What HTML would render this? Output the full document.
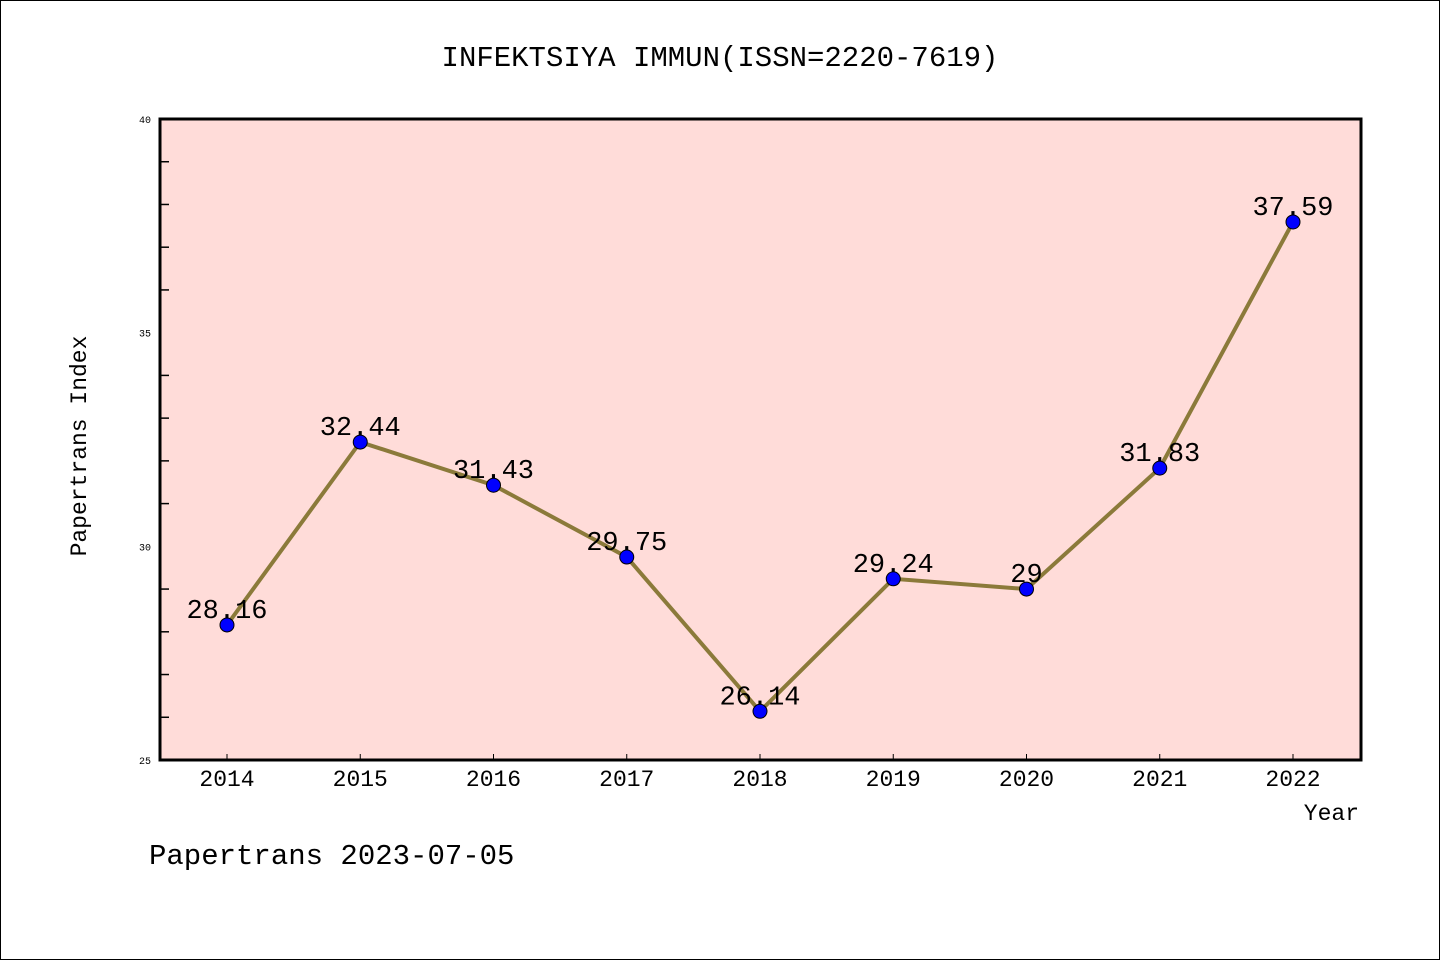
<!DOCTYPE html>
<html><head><meta charset="utf-8"><style>
body{margin:0;background:#fff}
svg text{font-family:"WenQuanYi Zen Hei Mono","WenQuanYi Zen Hei","Liberation Mono",monospace}
</style></head><body>
<svg width="1440" height="960" xmlns="http://www.w3.org/2000/svg">
<rect x="0.5" y="0.5" width="1439" height="959" fill="#fff" stroke="#000"/>
<text x="720" y="66" text-anchor="middle" font-size="29">INFEKTSIYA IMMUN(ISSN=2220-7619)</text>
<rect x="160" y="119" width="1201" height="641" fill="#ffdcd9"/>
<g id="axes"></g>
<rect x="160" y="119" width="1201" height="641" fill="none" stroke="#000" stroke-width="3"/>
<g id="marks"></g>
<text x="86" y="446" text-anchor="middle" font-size="23" transform="rotate(-90 86 446)">Papertrans Index</text>
<text x="1359" y="820" text-anchor="end" font-size="23">Year</text>
<text x="149" y="864" font-size="29">Papertrans 2023-07-05</text>
</svg>
<script>
const years=["2014","2015","2016","2017","2018","2019","2020","2021","2022"];
const values=[28.16,32.44,31.43,29.75,26.14,29.24,29,31.83,37.59];
const labels=["28.16","32.44","31.43","29.75","26.14","29.24","29","31.83","37.59"];
const yTicks=[25,30,35,40];
const NS="http://www.w3.org/2000/svg";
const yMin=25,yMax=40,plotTop=119,plotBot=760,xFirst=227,xLast=1293;
const ys=v=>plotBot-(v-yMin)/(yMax-yMin)*(plotBot-plotTop);
const xs=i=>xFirst+i*(xLast-xFirst)/(years.length-1);
function mk(t,a,p){const e=document.createElementNS(NS,t);for(const k in a)e.setAttribute(k,a[k]);p.appendChild(e);return e;}
const ax=document.getElementById('axes'),mg=document.getElementById('marks');
for(let v=yMin;v<=yMax;v++){
 if(yTicks.includes(v)){
  const t=mk('text',{x:151,y:ys(v)+4,'text-anchor':'end','font-size':10},ax);t.textContent=v;
  
  
 } else {
  const l=mk('line',{x1:160,x2:169,y1:ys(v),y2:ys(v),stroke:'#000','stroke-width':1.5},ax);
  
  
 }
}
years.forEach((y,i)=>{
 const l=mk('line',{x1:xs(i),x2:xs(i),y1:plotBot,y2:plotBot-6,stroke:'#000','stroke-width':1},ax);
 
 
 const t=mk('text',{x:xs(i),y:786,'text-anchor':'middle','font-size':23},ax);t.textContent=y;
 
 
});
const pl=mk('polyline',{points:values.map((v,i)=>xs(i)+','+ys(v)).join(' '),fill:'none',stroke:'#8b7a3a','stroke-width':4},mg);


values.forEach((v,i)=>{
 const c=mk('circle',{cx:xs(i),cy:ys(v),r:7,fill:'#0000ff',stroke:'#000','stroke-width':1},mg);
 
 
 const t=mk('text',{x:xs(i),y:ys(v)-7,'text-anchor':'middle','font-size':27},mg);t.textContent=labels[i];
 
 
});
</script>
</body></html>
